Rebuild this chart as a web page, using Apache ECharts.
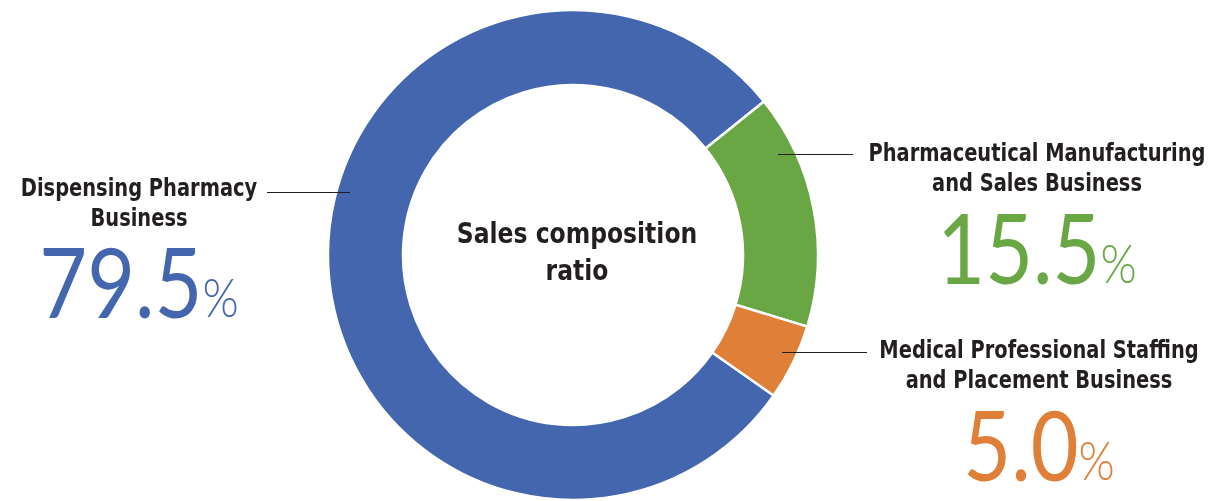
<!DOCTYPE html>
<html>
<head>
<meta charset="utf-8">
<script src="https://cdn.jsdelivr.net/npm/echarts@6/dist/echarts.min.js"></script>
<style>
html,body{margin:0;padding:0;background:#fff;}
#c{width:1215px;height:501px;}
</style>
</head>
<body>
<div id="c"></div>
<script>
// ---- data ----
const categories = ['Dispensing Pharmacy Business', 'Pharmaceutical Manufacturing and Sales Business', 'Medical Professional Staffing and Placement Business'];
const labelLines = [['Dispensing Pharmacy', 'Business'], ['Pharmaceutical Manufacturing', 'and Sales Business'], ['Medical Professional Staffing', 'and Placement Business']];
const shares = [79.5, 15.5, 5.0];
const centerTitle = ['Sales composition', 'ratio'];

// ---- style / layout ----
const colors = ['#4466AF', '#68A743', '#E07F37'];
const textColor = '#231F20';
const labelFont = '"DejaVu Sans Condensed", "Liberation Sans Narrow", sans-serif';
const numFont = 'Lato, "Open Sans", sans-serif';
const labelPos = [
  {cx: 139, y1: 190, y2: 220, ny: 287, line: [267, 192.5, 350, 192.5]},
  {cx: 1037, y1: 155, y2: 185, ny: 253, line: [778, 154.5, 853, 154.5]},
  {cx: 1039, y1: 352, y2: 382, ny: 450, line: [782, 352.5, 867, 352.5]}
];
const textSquash = 0.9;
const numSquash = 0.86;

const chart = echarts.init(document.getElementById('c'), null, {renderer: 'canvas'});

const graphics = [];
labelPos.forEach((p, i) => {
  graphics.push({type: 'line', shape: {x1: p.line[0], y1: p.line[1], x2: p.line[2], y2: p.line[3]}, style: {stroke: '#231F20', lineWidth: 1}, z: 10});
  graphics.push({type: 'text', x: p.cx, y: p.y1, scaleX: textSquash, style: {text: labelLines[i][0], font: 'bold 24px ' + labelFont, fill: textColor, align: 'center', verticalAlign: 'middle'}, z: 10});
  graphics.push({type: 'text', x: p.cx, y: p.y2, scaleX: textSquash, style: {text: labelLines[i][1], font: 'bold 24px ' + labelFont, fill: textColor, align: 'center', verticalAlign: 'middle'}, z: 10});
  graphics.push({type: 'text', x: p.cx, y: p.ny, scaleX: numSquash, style: {
    text: '{n|' + shares[i].toFixed(1) + '}{p|%}', align: 'center', verticalAlign: 'middle',
    rich: {
      n: {fontFamily: numFont, fontWeight: 400, fontSize: 96, fill: colors[i], color: colors[i], verticalAlign: 'bottom', lineHeight: 96},
      p: {fontFamily: numFont, fontWeight: 300, fontSize: 54, fill: colors[i], color: colors[i], verticalAlign: 'bottom', lineHeight: 96, padding: [0, 0, 8, 0]}
    }}, z: 10});
});
graphics.push({type: 'text', x: 577, y: 235, scaleX: textSquash, style: {text: centerTitle[0], font: 'bold 29px ' + labelFont, fill: textColor, align: 'center', verticalAlign: 'middle'}, z: 10});
graphics.push({type: 'text', x: 577, y: 272, scaleX: textSquash, style: {text: centerTitle[1], font: 'bold 29px ' + labelFont, fill: textColor, align: 'center', verticalAlign: 'middle'}, z: 10});

chart.setOption({
  animation: false,
  color: colors,
  series: [{
    type: 'pie',
    center: [573, 255],
    radius: [170, 245],
    startAngle: 325,
    clockwise: true,
    label: {show: false},
    labelLine: {show: false},
    itemStyle: {borderColor: '#fff', borderWidth: 2.5},
    emphasis: {disabled: true},
    data: categories.map((c, i) => ({name: c, value: shares[i]}))
  }],
  graphic: graphics
});
</script>
</body>
</html>
